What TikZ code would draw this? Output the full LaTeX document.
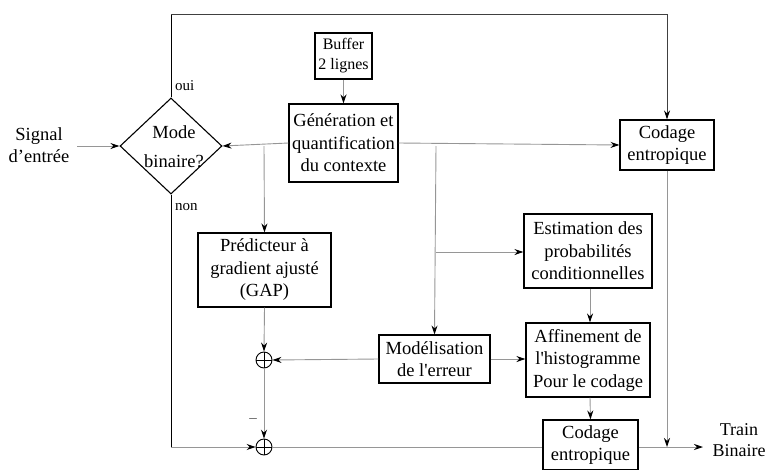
\documentclass[tikz,border=0pt]{standalone}
\usepackage{fontspec}
\setmainfont{Liberation Serif}
\usetikzlibrary{arrows.meta,shapes.geometric,calc}
\definecolor{linegray}{RGB}{150,150,150}
\begin{document}
\begin{tikzpicture}[x=1pt,y=-1pt,
  txt/.style={font=\fontsize{18.5}{22.5}\selectfont, align=center, inner sep=0pt},
  box/.style={txt, draw=black, line width=1.1pt},
  conn/.style={draw=linegray, line width=0.9pt},
  arr/.style={conn, -{Stealth[length=9pt,width=6pt,inset=3pt,color=black]}},
  sum/.style={circle, draw=black, line width=0.9pt, minimum size=16pt, inner sep=0pt,
    path picture={\draw[black, line width=0.9pt] (path picture bounding box.north) -- (path picture bounding box.south)
      (path picture bounding box.west) -- (path picture bounding box.east);}},
  small/.style={font=\fontsize{15}{18}\selectfont, inner sep=0pt}
]
\useasboundingbox (0,0) rectangle (766,469);
\clip (0,0) rectangle (766,469);

% nodes
\node[draw=black, line width=1.1pt, diamond, minimum width=102pt, minimum height=96pt, inner sep=0pt] (mode) at (171,146) {};
\node[txt, font=\fontsize{18.5}{29}\selectfont] (modetxt) at (174,147) {Mode\\binaire?};
\node[txt] (sig) at (39,145) {Signal\\d’entrée};
\node[box, font=\fontsize{16}{20}\selectfont, minimum width=57pt, minimum height=46pt] (buf) at (343.5,56) {Buffer\\2 lignes};
\node[box, minimum width=109pt, minimum height=78pt] (gen) at (343.5,143) {Génération et\\quantification\\du contexte};
\node[box, minimum width=94pt, minimum height=50pt] (cod1) at (667,145) {Codage\\entropique};
\node[box, minimum width=133pt, minimum height=74pt] (pred) at (264.5,270) {Prédicteur à\\gradient ajusté\\(GAP)};
\node[box, minimum width=128pt, minimum height=74pt] (est) at (588,251) {Estimation des\\probabilités\\conditionnelles};
\node[box, minimum width=124pt, minimum height=74pt] (aff) at (588,360) {Affinement de\\l\textquotesingle histogramme\\Pour le codage};
\node[box, minimum width=111pt, minimum height=48pt] (mod) at (434.5,359) {Modélisation\\de l\textquotesingle erreur};
\node[box, minimum width=95pt, minimum height=50pt] (cod2) at (590.5,445) {Codage\\entropique};
\node[sum] (s1) at (264,360) {};
\node[sum] (s2) at (264,447) {};
\node[txt, font=\fontsize{18}{21}\selectfont] (train) at (739,440) {Train\\Binaire};
\node[small, anchor=west] (oui) at (175,86) {oui};
\node[small, anchor=west] (non) at (175,207) {non};
\node[small, text=black!70] (minus) at (253,421) {–};

% coordinates
\coordinate (tl) at (171,14);
\coordinate (bl) at (171,447);
\coordinate (b1) at (264,146);
\coordinate (b2) at (436,146);
\coordinate (b3) at (436,252);
\coordinate (outend) at (703,447);
\coordinate (j) at (667,447);

% connectors
\draw[black, line width=0.9pt] (mode.north) -- (tl);
\draw[arr, draw=darkgray] (tl) -| (cod1.north);
\draw[black, line width=0.9pt] (mode.south) -- (bl);
\draw[arr] (bl) -- (s2.west);
\draw[arr] ($(sig.east)+(8,1)$) -- (mode.west);
\draw[arr] (buf.south) -- (buf.south |- gen.north);
\draw[arr] (gen.west) -- (mode.east);
\draw[arr] (gen.east) -- (cod1.west);
\draw[arr] (b1) -- (pred.north);
\draw[arr] (b2) -- (mod.north);
\draw[arr] (b3) -- (est.west |- b3);
\draw[arr] ($(est.south)+(2,0)$) -- ($(aff.north)+(2,0)$);
\draw[arr] (mod.east) -- (aff.west |- mod.east);
\draw[arr] ($(aff.south)+(2,0)$) -- (cod2.north);
\draw[arr] (pred.south) -- (s1.north);
\draw[arr] (mod.west) -- (s1.east);
\draw[arr] (s1.south) -- (s2.north);
\draw[conn] (s2.east) -- (cod2.west |- s2.east);
\draw[arr] (cod2.east |- s2.east) -- (outend);
\draw[arr] (cod1.south) -- (j);
\end{tikzpicture}
\end{document}
